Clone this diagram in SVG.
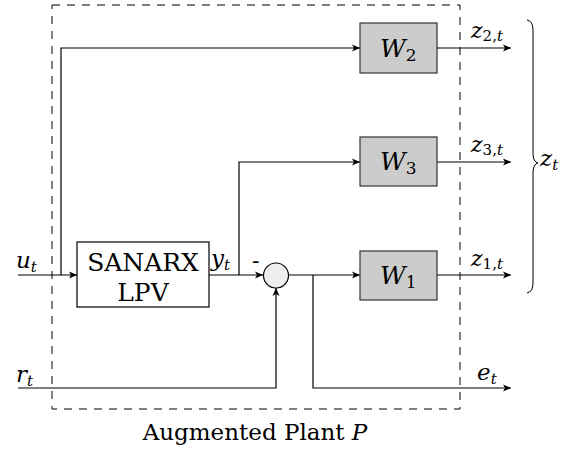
<svg xmlns="http://www.w3.org/2000/svg" width="570" height="450" viewBox="0 0 570 450">
<style>
.wire{fill:none;stroke:#000;stroke-width:1.2}
.arr{marker-end:url(#ah)}
.blk{fill:#fff;stroke:#000;stroke-width:1.2}
.wb{fill:#cccccc;stroke:#333;stroke-width:1.2}
.txt{font-family:"DejaVu Serif","Liberation Serif",serif;fill:#000}
.m{font-style:italic}
</style>
<defs>
<marker id="ah" markerUnits="userSpaceOnUse" markerWidth="10" markerHeight="10" refX="9" refY="5" orient="auto">
<path d="M1,1.5 L9,5 L1,8.5 L3,5 z" fill="#000"/>
</marker>
</defs>
<rect x="52" y="5" width="408" height="404" fill="none" stroke="#000" stroke-width="1" stroke-dasharray="8,7"/>
<g id="connectors">
<path class="wire arr" d="M18,275 H77"/>
<path class="wire arr" d="M61,275 V48 H360"/>
<path class="wire arr" d="M209,275 H263"/>
<path class="wire arr" d="M239,275 V162 H360"/>
<path class="wire arr" d="M289,275 H360"/>
<path class="wire arr" d="M313,275 V388 H511"/>
<path class="wire arr" d="M18,388 H276 V288"/>
<path class="wire arr" d="M437,48 H511"/>
<path class="wire arr" d="M437,162 H511"/>
<path class="wire arr" d="M437,275 H511"/>
</g>
<g id="sanarx">
<rect class="blk" x="77" y="242" width="132" height="65"/>
<text class="txt" x="143" y="271" font-size="25" text-anchor="middle">SANARX</text>
<text class="txt" x="143" y="301" font-size="25" text-anchor="middle">LPV</text>
</g>
<g id="sum">
<circle cx="276" cy="275.5" r="12.5" fill="#eeeeee" stroke="#000" stroke-width="1.2"/>
</g>
<g id="W2">
<rect class="wb" x="360" y="23" width="77" height="50"/>
<text class="txt m" x="380" y="57" font-size="25">W<tspan font-style="normal" font-size="17" dy="4">2</tspan></text>
</g>
<g id="W3">
<rect class="wb" x="360" y="137" width="77" height="49"/>
<text class="txt m" x="380" y="170" font-size="25">W<tspan font-style="normal" font-size="17" dy="4">3</tspan></text>
</g>
<g id="W1">
<rect class="wb" x="360" y="251" width="77" height="49"/>
<text class="txt m" x="380" y="284" font-size="25">W<tspan font-style="normal" font-size="17" dy="4">1</tspan></text>
</g>
<g id="labels">
<text class="txt m" x="16" y="268" font-size="23">u<tspan font-size="15" dy="4">t</tspan></text>
<text class="txt m" x="16" y="382" font-size="23">r<tspan font-size="15" dy="4">t</tspan></text>
<text class="txt m" x="211" y="266" font-size="23">y<tspan font-size="15" dy="4">t</tspan></text>
<text class="txt" x="252" y="268" font-size="22">-</text>
<text class="txt m" x="477" y="380" font-size="23">e<tspan font-size="15" dy="4">t</tspan></text>
<text class="txt m" x="471" y="38" font-size="22">z<tspan font-style="normal" font-size="15" dy="3">2,</tspan><tspan font-size="15">t</tspan></text>
<text class="txt m" x="471" y="152" font-size="22">z<tspan font-style="normal" font-size="15" dy="3">3,</tspan><tspan font-size="15">t</tspan></text>
<text class="txt m" x="471" y="266" font-size="22">z<tspan font-style="normal" font-size="15" dy="3">1,</tspan><tspan font-size="15">t</tspan></text>
<text class="txt m" x="540" y="166" font-size="23">z<tspan font-size="15" dy="4">t</tspan></text>
<text class="txt" x="255" y="440" font-size="23" text-anchor="middle">Augmented Plant <tspan font-style="italic">P</tspan></text>
</g>
<g id="brace">
<path d="M527,20 Q533,21 533,30 V153 Q533,162 538,163 Q533,164 533,173 V283 Q533,292 527,293" fill="none" stroke="#000" stroke-width="1"/>
</g>
</svg>
